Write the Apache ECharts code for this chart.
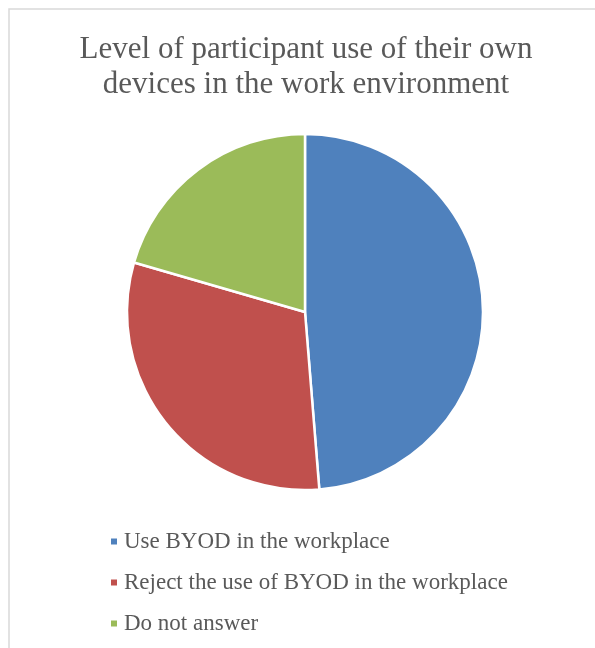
<!DOCTYPE html>
<html>
<head>
<meta charset="utf-8">
<script src="https://cdn.jsdelivr.net/npm/echarts@6/dist/echarts.min.js"></script>
<style>
  html, body { margin: 0; padding: 0; background: #ffffff; }
  #chart { width: 595px; height: 648px; }
</style>
</head>
<body>
<div id="chart"></div>
<script>
// Survey answers on bringing personal devices to work
const categories = [
  'Use BYOD in the workplace',
  'Reject the use of BYOD in the workplace',
  'Do not answer'
];
const counts = [19, 12, 8];
const colors = ['#4F81BD', '#C0504D', '#9BBB59'];
const titleText = 'Level of participant use of their own\ndevices in the work environment';

const chart = echarts.init(document.getElementById('chart'), null, { renderer: 'canvas' });

chart.setOption({
  animation: false,
  backgroundColor: '#ffffff',
  graphic: [{
    type: 'rect',
    shape: { x: 9, y: 9, width: 600, height: 660 },
    style: { fill: 'none', stroke: '#d9d9d9', lineWidth: 1.5 },
    silent: true
  }],
  title: {
    text: titleText,
    left: 301,
    top: 27,
    textAlign: 'center',
    textStyle: {
      fontFamily: 'Liberation Serif',
      fontSize: 31,
      fontWeight: 'normal',
      color: '#595959',
      lineHeight: 35
    }
  },
  legend: {
    orient: 'vertical',
    left: 109,
    top: 530,
    padding: 0,
    itemWidth: 8,
    itemHeight: 8,
    itemGap: 18,
    icon: 'rect',
    data: categories,
    textStyle: {
      fontFamily: 'Liberation Serif',
      fontSize: 23,
      color: '#595959',
      lineHeight: 23,
      padding: [0, 0, 0, 1]
    }
  },
  series: [{
    type: 'pie',
    center: [305, 312],
    radius: 178,
    startAngle: 90,
    clockwise: true,
    label: { show: false },
    labelLine: { show: false },
    itemStyle: { borderColor: '#ffffff', borderWidth: 2.5 },
    emphasis: { disabled: true },
    data: categories.map((name, i) => ({
      name,
      value: counts[i],
      itemStyle: { color: colors[i] }
    }))
  }]
});
</script>
</body>
</html>
